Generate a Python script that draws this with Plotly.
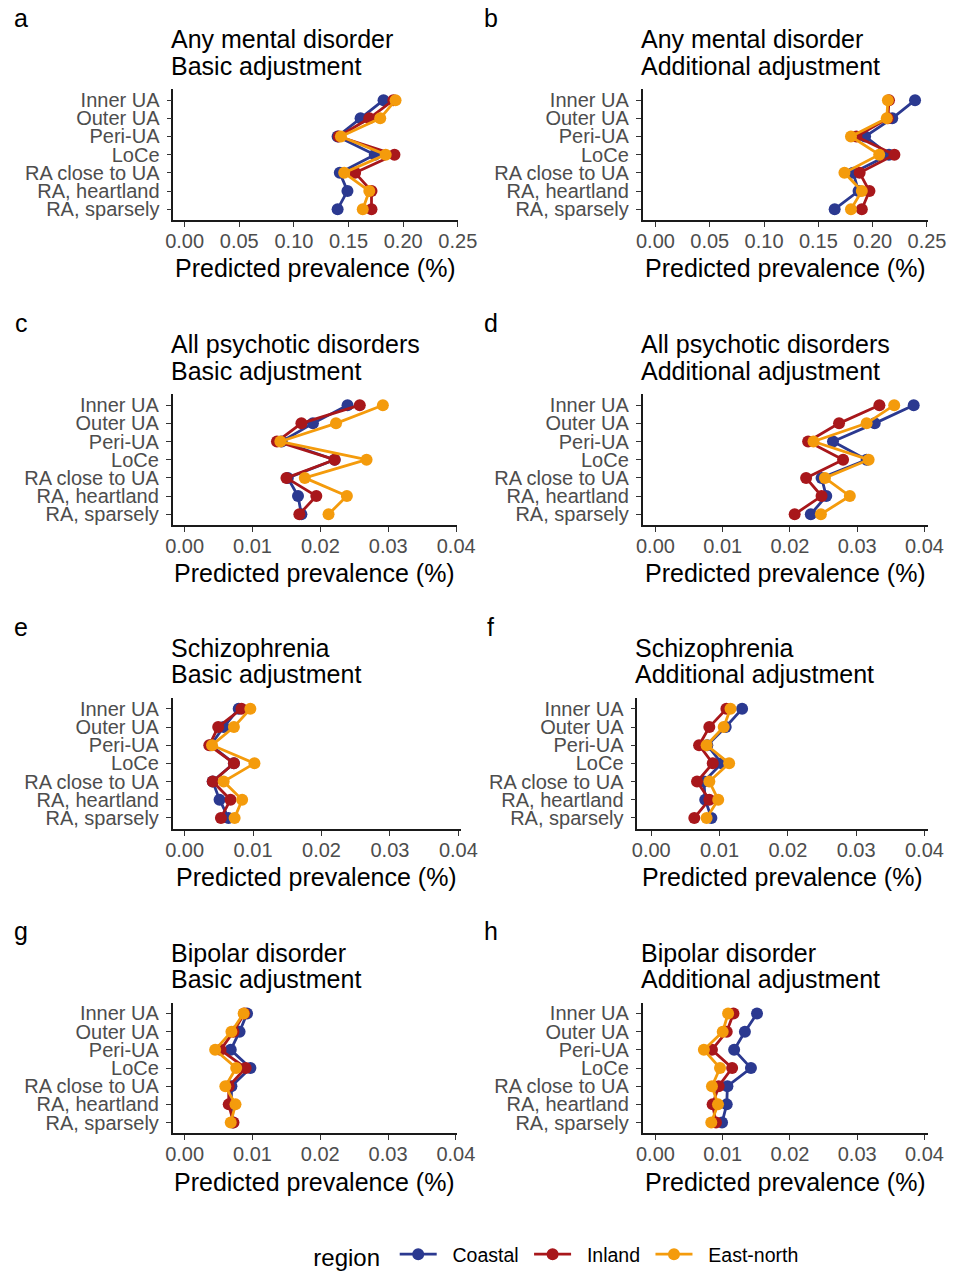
import plotly.graph_objects as go

W, H = 970, 1277

areas = ["Inner UA", "Outer UA", "Peri-UA", "LoCe", "RA close to UA", "RA, heartland", "RA, sparsely"]
regions = ["Coastal", "Inland", "East-north"]
colors = {"Coastal": "#2B3990", "Inland": "#A8171B", "East-north": "#F49B0C"}

# Predicted prevalence per panel, one list per region (order follows `areas`)
any_basic = {
    "Coastal":    [0.182, 0.161, 0.140, 0.174, 0.142, 0.149, 0.140],
    "Inland":     [0.191, 0.169, 0.141, 0.192, 0.156, 0.171, 0.171],
    "East-north": [0.193, 0.179, 0.143, 0.184, 0.146, 0.169, 0.163],
}
any_add = {
    "Coastal":    [0.239, 0.218, 0.193, 0.215, 0.182, 0.187, 0.165],
    "Inland":     [0.215, 0.214, 0.185, 0.220, 0.188, 0.197, 0.190],
    "East-north": [0.214, 0.213, 0.180, 0.206, 0.174, 0.190, 0.180],
}
psy_basic = {
    "Coastal":    [0.0240, 0.0189, 0.0143, 0.0221, 0.0152, 0.0167, 0.0172],
    "Inland":     [0.0258, 0.0172, 0.0136, 0.0221, 0.0150, 0.0194, 0.0169],
    "East-north": [0.0292, 0.0223, 0.0141, 0.0268, 0.0177, 0.0239, 0.0212],
}
psy_add = {
    "Coastal":    [0.0384, 0.0326, 0.0264, 0.0314, 0.0247, 0.0254, 0.0231],
    "Inland":     [0.0333, 0.0273, 0.0227, 0.0279, 0.0224, 0.0247, 0.0207],
    "East-north": [0.0355, 0.0314, 0.0235, 0.0317, 0.0252, 0.0289, 0.0246],
}
scz_basic = {
    "Coastal":    [0.0079, 0.0057, 0.0038, 0.0072, 0.0041, 0.0051, 0.0064],
    "Inland":     [0.0083, 0.0049, 0.0036, 0.0072, 0.0041, 0.0067, 0.0053],
    "East-north": [0.0096, 0.0072, 0.0040, 0.0102, 0.0057, 0.0084, 0.0073],
}
scz_add = {
    "Coastal":    [0.0133, 0.0109, 0.0082, 0.0103, 0.0077, 0.0079, 0.0088],
    "Inland":     [0.0110, 0.0085, 0.0070, 0.0090, 0.0067, 0.0085, 0.0063],
    "East-north": [0.0116, 0.0106, 0.0081, 0.0114, 0.0085, 0.0098, 0.0081],
}
bip_basic = {
    "Coastal":    [0.0092, 0.0081, 0.0068, 0.0097, 0.0069, 0.0069, 0.0071],
    "Inland":     [0.0088, 0.0072, 0.0053, 0.0090, 0.0065, 0.0065, 0.0072],
    "East-north": [0.0087, 0.0069, 0.0045, 0.0076, 0.0060, 0.0075, 0.0068],
}
bip_add = {
    "Coastal":    [0.0151, 0.0133, 0.0117, 0.0142, 0.0107, 0.0106, 0.0099],
    "Inland":     [0.0116, 0.0106, 0.0084, 0.0114, 0.0094, 0.0085, 0.0090],
    "East-north": [0.0108, 0.0100, 0.0072, 0.0096, 0.0084, 0.0093, 0.0083],
}

ticks_wide = [0.00, 0.05, 0.10, 0.15, 0.20, 0.25]
ticks_narrow = [0.00, 0.01, 0.02, 0.03, 0.04]

# letter, title line 1, title line 2, data, ticks,
# panel left/right (px), zero position (px), position of last tick (px), row bottom (px)
panels = [
    ("a", "Any mental disorder", "Basic adjustment", any_basic, ticks_wide, 170.0, 463.0, 181.7, 462.7, 222.0),
    ("b", "Any mental disorder", "Additional adjustment", any_add, ticks_wide, 652.7, 946.0, 666.0, 945.3, 222.0),
    ("c", "All psychotic disorders", "Basic adjustment", psy_basic, ticks_narrow, 169.3, 461.7, 181.7, 461.0, 529.7),
    ("d", "All psychotic disorders", "Additional adjustment", psy_add, ticks_narrow, 652.7, 946.0, 666.0, 942.7, 529.7),
    ("e", "Schizophrenia", "Basic adjustment", scz_basic, ticks_narrow, 169.3, 466.0, 181.7, 463.3, 836.0),
    ("f", "Schizophrenia", "Additional adjustment", scz_add, ticks_narrow, 647.3, 946.0, 661.7, 942.7, 836.0),
    ("g", "Bipolar disorder", "Basic adjustment", bip_basic, ticks_narrow, 169.3, 461.7, 181.7, 460.7, 1143.3),
    ("h", "Bipolar disorder", "Additional adjustment", bip_add, ticks_narrow, 652.7, 946.0, 666.0, 942.7, 1143.3),
]

FONT = "Liberation Sans, Arial, sans-serif"
PANEL_H = 132.0
NB = "\u00a0"

fig = go.Figure()
annotations = []
layout_axes = {}

for i, (letter, t1, t2, data, ticks, left, right, zero_px, max_px, bottom) in enumerate(panels):
    n = i + 1
    xname = "x" if n == 1 else f"x{n}"
    yname = "y" if n == 1 else f"y{n}"
    xkey = "xaxis" if n == 1 else f"xaxis{n}"
    ykey = "yaxis" if n == 1 else f"yaxis{n}"

    scale = (max_px - zero_px) / ticks[-1]
    xr = [(left - zero_px) / scale, (right - zero_px) / scale]
    top = bottom - PANEL_H

    for reg in regions:
        fig.add_trace(go.Scatter(
            x=data[reg], y=areas, mode="lines+markers",
            name=NB * 2 + reg + NB, legendgroup=reg, showlegend=(n == 1),
            line=dict(color=colors[reg], width=2.8),
            marker=dict(color=colors[reg], size=12),
            xaxis=xname, yaxis=yname,
        ))

    layout_axes[xkey] = dict(
        domain=[left / W, right / W], anchor=yname, range=xr,
        tickmode="array", tickvals=ticks, ticktext=[f"{t:.2f}" for t in ticks],
        showgrid=False, zeroline=False, showline=True, linecolor="#1a1a1a", linewidth=1.5,
        ticks="outside", ticklen=5, tickwidth=1.3, tickcolor="#333333",
        ticklabelstandoff=-3,
        tickfont=dict(family=FONT, size=20, color="#4D4D4D"),
    )
    layout_axes[ykey] = dict(
        domain=[1 - bottom / H, 1 - top / H], anchor=xname,
        type="category", categoryorder="array", categoryarray=areas,
        tickmode="array", tickvals=areas, ticktext=areas,
        range=[6.6, -0.6],
        showgrid=False, zeroline=False, showline=True, linecolor="#1a1a1a", linewidth=1.5,
        ticks="outside", ticklen=5, tickwidth=1.3, tickcolor="#333333",
        ticklabelstandoff=3,
        tickfont=dict(family=FONT, size=20, color="#4D4D4D"),
    )

    off = bottom - 222.0
    letter_x = 13.5 if left < 300 else 496.5
    annotations.append(dict(text=letter, x=letter_x / W, y=1 - (18 + off) / H,
                            xref="paper", yref="paper", xanchor="center", yanchor="middle",
                            showarrow=False, font=dict(family=FONT, size=25, color="black")))
    annotations.append(dict(text=t1, x=(left - 4) / W, y=1 - (39.5 + off) / H,
                            xref="paper", yref="paper", xanchor="left", yanchor="middle",
                            showarrow=False, font=dict(family=FONT, size=25, color="black")))
    annotations.append(dict(text=t2, x=(left - 4) / W, y=1 - (66.2 + off) / H,
                            xref="paper", yref="paper", xanchor="left", yanchor="middle",
                            showarrow=False, font=dict(family=FONT, size=25, color="black")))
    annotations.append(dict(text="Predicted prevalence (%)", x=((left + right) / 2) / W,
                            y=1 - (270.5 + off) / H,
                            xref="paper", yref="paper", xanchor="center", yanchor="middle",
                            showarrow=False, font=dict(family=FONT, size=25, color="black")))

fig.update_layout(
    width=W, height=H,
    margin=dict(l=0, r=0, t=0, b=0),
    paper_bgcolor="white", plot_bgcolor="white",
    font=dict(family=FONT, color="black"),
    annotations=annotations,
    legend=dict(
        orientation="h", x=312 / W, y=1 - 1267 / H, xanchor="left", yanchor="middle",
        title=dict(text="region ", font=dict(family=FONT, size=24, color="black"), side="left"),
        font=dict(family=FONT, size=19.5, color="black"),
        itemwidth=37,
        bgcolor="rgba(0,0,0,0)",
    ),
    **layout_axes,
)

fig.write_html("out.html")
